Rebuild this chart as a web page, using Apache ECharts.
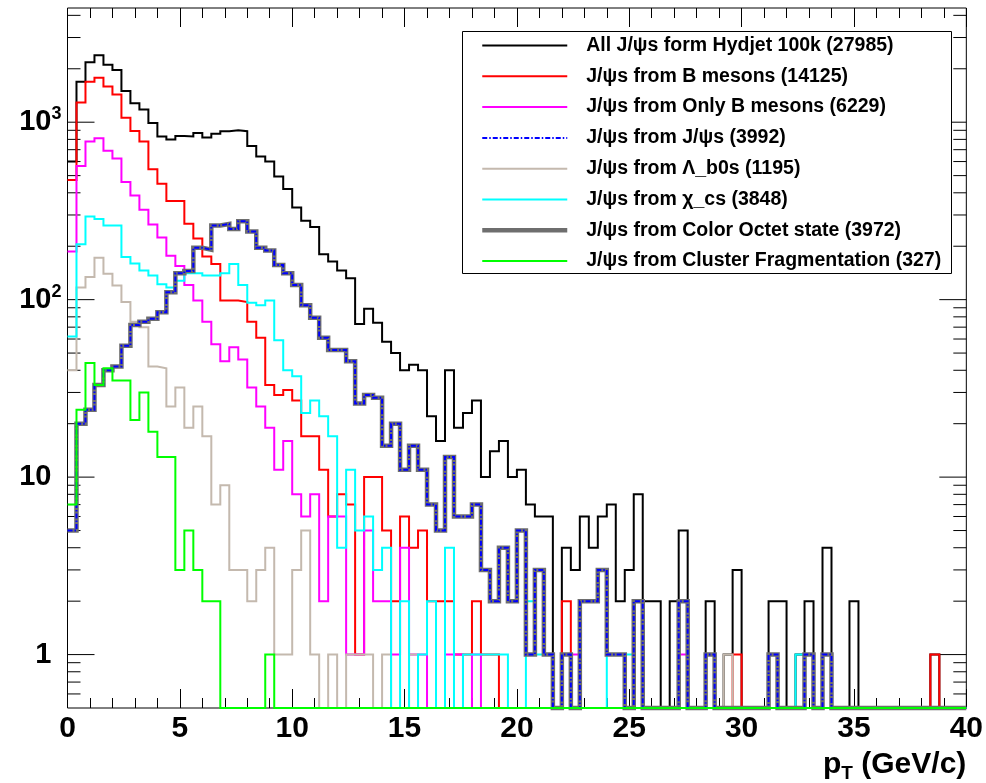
<!DOCTYPE html>
<html><head><meta charset="utf-8">
<script src="https://cdn.jsdelivr.net/npm/echarts@6/dist/echarts.min.js"></script>
<style>html,body{margin:0;padding:0;background:#fff}#c{width:986px;height:783px}</style>
</head><body><div id="c"></div><script>
// ---- binning / ranges ----
const binWidth = 0.4;
const xMin = 0, xMax = 40;
const yMin = 0.5, yMax = 4400;

// ---- series values (counts per 0.4 GeV/c bin, 100 bins) ----
const allJpsi = [601,1690,2180,2380,2110,1970,1500,1280,1180,990,
 830,800,836,830,870,820,860,890,900,890,
 735,640,600,495,420,331,278,257,180,164,
 146,132,73,89,74,58,50,40,43,40,
 22,16,40,19,23,27,10,14,16,10,
 11,7,6,6,0,4,3,6,4,6,
 7,2,3,8,2,2,0,2,5,0,
 0,2,0,1,3,0,0,0,2,2,
 0,1,2,0,4,0,0,2,0,0,
 0,0,0,0,0,0,1,0,0,0];
const fromB = [473,1290,1690,1780,1590,1430,1060,893,779,543,
 450,360,360,268,221,175,159,99,99,97,
 75,61,33,29,31,27,17,17,11,6,
 8,7,1,10,10,5,2,6,4,5,
 2,2,2,1,1,2,1,1,0,0,
 0,0,0,0,0,2,0,0,0,0,
 0,0,0,0,0,0,0,0,0,0,
 0,0,0,0,1,0,0,0,0,0,
 0,0,0,0,0,0,0,0,0,0,
 0,0,0,0,0,0,1,0,0,0];
const onlyB = [187,566,779,811,690,624,460,386,321,265,
 224,177,155,121,99,75,56,45,54,46,
 32,25,19,11,16,8,6,8,2,6,
 6,1,1,5,2,2,1,4,1,1,
 0,0,1,1,0,1,0,0,0,0,
 0,0,0,0,0,0,1,0,0,0,
 0,0,0,0,0,0,0,0,1,0,
 0,0,0,0,0,0,0,0,0,0,
 0,0,0,0,0,0,0,0,0,0,
 0,0,0,0,0,0,0,0,0,0];
const fromJpsi = [5,20,24,33,40,42,55,72,75,78,
 85,110,141,145,196,191,262,267,250,277,
 242,196,189,157,141,121,93,79,61,52,
 52,45,26,29,28,15,20,11,15,11,
 7,5,13,6,6,7,3,2,4,2,
 5,1,3,1,0,1,0,2,2,3,
 1,1,0,2,0,0,0,0,2,0,
 0,1,0,0,0,0,0,0,1,0,
 0,0,1,0,1,0,0,0,0,0,
 0,0,0,0,0,0,0,0,0,0];
const fromLambdaB = [40,117,134,172,140,120,97,75,70,42,
 41,25,32,19,25,17,7,9,3,3,
 2,3,4,1,1,3,5,1,0,1,
 0,1,1,1,0,1,0,0,1,0,
 0,0,0,0,0,0,0,0,0,0,
 0,0,0,0,0,0,0,0,0,0,
 0,0,0,0,0,0,0,0,0,0,
 0,0,0,1,0,0,0,0,0,0,
 0,0,0,0,0,0,0,0,0,0,
 0,0,0,0,0,0,0,0,0,0];
const fromChiC = [62,205,294,285,262,262,174,160,146,137,
 122,117,128,141,141,137,137,141,159,121,
 96,93,99,59,40,37,23,27,22,17,
 4,11,5,6,3,4,0,2,0,1,
 2,0,4,0,1,1,1,1,1,0,
 0,2,1,1,0,0,0,0,0,0,
 1,1,1,0,0,0,0,0,0,0,
 0,0,0,0,0,0,0,0,0,0,
 0,1,0,0,0,0,0,0,0,0,
 0,0,0,0,0,0,0,0,0,0];
const fromColorOctet = [5,20,24,33,40,42,55,72,75,78,
 85,110,141,145,196,191,262,267,250,277,
 242,196,189,157,141,121,93,79,61,52,
 52,45,26,29,28,15,20,11,15,11,
 7,5,13,6,6,7,3,2,4,2,
 5,1,3,1,0,1,0,2,2,3,
 1,1,0,2,0,0,0,0,2,0,
 0,1,0,0,0,0,0,0,1,0,
 0,0,1,0,1,0,0,0,0,0,
 0,0,0,0,0,0,0,0,0,0];
const fromCluster = [7,24,44,33,41,35,35,21,30,18,
 13,13,3,5,3,2,2,0,0,0,
 0,0,1,0,0,0,0,0,0,0,
 0,0,0,0,0,0,0,0,0,0,
 0,0,0,0,0,0,0,0,0,0,
 0,0,0,0,0,0,0,0,0,0,
 0,0,0,0,0,0,0,0,0,0,
 0,0,0,0,0,0,0,0,0,0,
 0,0,0,0,0,0,0,0,0,0,
 0,0,0,0,0,0,0,0,0,0];

// ---- legend names ----
const names = [
 'All J/\u03c8s form Hydjet 100k (27985)',
 'J/\u03c8s from B mesons (14125)',
 'J/\u03c8s from Only B mesons (6229)',
 'J/\u03c8s from J/\u03c8s (3992)',
 'J/\u03c8s from \u039b_b0s (1195)',
 'J/\u03c8s from \u03c7_cs (3848)',
 'J/\u03c8s from Color Octet state (3972)',
 'J/\u03c8s from Cluster Fragmentation (327)'
];

// ---- tick values ----
const xTickInterval = 5;
const yMajorTicks = [1, 10, 100, 1000];
const yMinorTicks = [0.6,0.7,0.8,0.9, 2,3,4,5,6,7,8,9, 20,30,40,50,60,70,80,90,
                     200,300,400,500,600,700,800,900, 2000,3000,4000];

const FONT = 'Liberation Sans, Arial, Helvetica, sans-serif';

function histPoints(vals) {
  const pts = vals.map((v, i) => [xMin + i * binWidth, v > 0 ? v : yMin]);
  const last = vals[vals.length - 1];
  pts.push([xMin + vals.length * binWidth, last > 0 ? last : yMin]);
  return pts;
}
function histSeries(name, vals, color, width, dash, z) {
  return {
    name, type: 'line', step: 'end', symbol: 'none', clip: false, silent: true,
    data: histPoints(vals), z: z,
    lineStyle: { color, width, type: dash || 'solid', cap: 'butt', join: 'miter' },
    itemStyle: { color },
    animation: false
  };
}

const chart = echarts.init(document.getElementById('c'), null, { renderer: 'canvas' });
const grid = { left: 67.5, right: 18.5, top: 8, bottom: 72.5 };

const option = {
  animation: false,
  backgroundColor: '#fff',
  grid: Object.assign({ show: true, borderColor: '#000', borderWidth: 1, backgroundColor: 'transparent' }, grid),
  xAxis: [{
    type: 'value', min: xMin, max: xMax, interval: xTickInterval, position: 'bottom',
    axisLine: { show: false }, splitLine: { show: false },
    axisTick: { show: true, inside: true, length: 19, lineStyle: { color: '#000', width: 1 } },
    minorTick: { show: true, splitNumber: 5, length: 10, lineStyle: { color: '#000', width: 1 } },
    axisLabel: { color: '#000', fontFamily: FONT, fontWeight: 'bold', fontSize: 30, margin: 6 },
    name: '{p|p}{t|T}{p| (GeV/c)}', nameLocation: 'end', nameGap: 0,
    nameTextStyle: {
      align: 'right', verticalAlign: 'top', padding: [38, 0, 0, 0],
      rich: {
        p: { fontFamily: FONT, fontWeight: 'bold', fontSize: 30, color: '#000' },
        t: { fontFamily: FONT, fontWeight: 'bold', fontSize: 19, color: '#000', padding: [18, 0, 0, 0] }
      }
    }
  }, {
    type: 'value', min: xMin, max: xMax, interval: xTickInterval, position: 'top',
    axisLine: { show: false }, splitLine: { show: false },
    axisTick: { show: true, inside: true, length: 19, lineStyle: { color: '#000', width: 1 } },
    minorTick: { show: true, splitNumber: 5, length: 10, lineStyle: { color: '#000', width: 1 } },
    axisLabel: { show: false }
  }],
  yAxis: {
    type: 'log', logBase: 10, min: yMin, max: yMax,
    axisLine: { show: false }, axisTick: { show: false }, splitLine: { show: false },
    axisLabel: {
      showMinLabel: false, showMaxLabel: false, margin: 6, align: 'right',
      formatter: function (v) {
        const e = Math.round(Math.log10(v));
        if (Math.abs(v - Math.pow(10, e)) > 1e-6 * v) return '';
        if (e === 0) return '{b|1}{sp|}';
        if (e === 1) return '{b|10}{sp|}';
        return '{b|10}{s|' + e + '}';
      },
      rich: {
        b: { fontFamily: FONT, fontWeight: 'bold', fontSize: 29, color: '#000' },
        s: { fontFamily: FONT, fontWeight: 'bold', fontSize: 18, color: '#000', padding: [0, 0, 16, 0] },
        sp: { width: 10 }
      }
    }
  },
  legend: {
    orient: 'vertical', left: 480, top: 35.5, padding: 0, itemWidth: 85, itemHeight: 14, itemGap: 10.8,
    selectedMode: false, z: 10, data: names,
    itemStyle: { opacity: 0 },
    lineStyle: { width: 'inherit' },
    textStyle: { fontFamily: FONT, fontWeight: 'bold', fontSize: 19.5, color: '#000', padding: [0, 0, 0, 14] }
  },
  graphic: [{
    type: 'rect', z: 3, silent: true,
    shape: { x: 462.5, y: 31.5, width: 489, height: 242 },
    style: { fill: '#fff', stroke: '#000', lineWidth: 1 }
  }],
  series: [
    {
      type: 'custom', name: 'yTicks', coordinateSystem: 'cartesian2d', silent: true, clip: false, z: 1,
      data: yMajorTicks.concat(yMinorTicks).map(v => [xMin, v]),
      encode: { x: 0, y: 1 },
      renderItem: function (params, api) {
        const v = api.value(1);
        const y = api.coord([xMin, v])[1];
        const cs = params.coordSys;
        const L = yMajorTicks.indexOf(v) >= 0 ? 27 : 13;
        return { type: 'group', children: [
          { type: 'line', shape: { x1: cs.x, y1: y, x2: cs.x + L, y2: y }, style: { stroke: '#000', lineWidth: 1 } },
          { type: 'line', shape: { x1: cs.x + cs.width, y1: y, x2: cs.x + cs.width - L, y2: y }, style: { stroke: '#000', lineWidth: 1 } }
        ] };
      }
    },
    histSeries(names[0], allJpsi, '#000000', 2, null, 2),
    histSeries(names[1], fromB, '#ff0000', 2, null, 2),
    histSeries(names[2], onlyB, '#ff00ff', 2, null, 2),
    histSeries(names[4], fromLambdaB, '#c4b9ae', 2, null, 2),
    histSeries(names[5], fromChiC, '#00ffff', 2, null, 2),
    histSeries(names[6], fromColorOctet, '#6e6e6e', 4.5, null, 2),
    histSeries(names[3], fromJpsi, '#0000ff', 2, [5, 2, 1.5, 2], 2),
    histSeries(names[7], fromCluster, '#00ff00', 2, null, 2)
  ]
};
chart.setOption(option);
</script></body></html>
